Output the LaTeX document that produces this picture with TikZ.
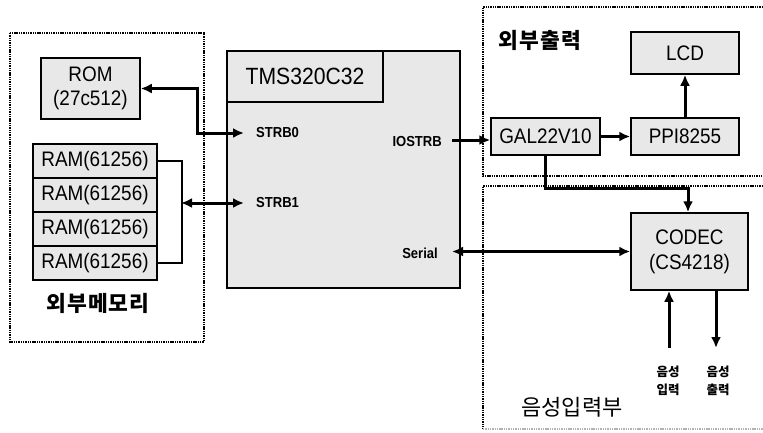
\documentclass[tikz,border=0pt]{standalone}
\usepackage{fontspec}
\setmainfont{Liberation Sans}[FakeStretch=0.9]
\newfontfamily\kr{Noto Sans CJK KR}
\usetikzlibrary{arrows.meta}
\definecolor{boxgray}{RGB}{232,232,232}
\tikzset{
  box/.style={draw, fill=boxgray, line width=1.5pt, inner sep=0pt, align=center, font=\fontsize{21}{24}\selectfont},
  grp/.style={line width=2.4pt, dash pattern=on 1.4pt off 0.9pt, line cap=butt},
  conn/.style={line width=3pt, -{Latex[length=11pt,width=10pt]}},
  bconn/.style={line width=3pt, {Latex[length=11pt,width=10pt]}-{Latex[length=11pt,width=10pt]}},
  pin/.style={font=\bfseries\fontsize{14.5}{16}\selectfont, inner sep=0pt},
  grplabel/.style={font=\kr\bfseries\fontsize{21.5}{24}\selectfont, inner sep=0pt},
}
\begin{document}
\begin{tikzpicture}[x=1pt,y=-1pt]
\useasboundingbox (0,0) rectangle (763,432);
% group frames
\draw[grp] (10,33) rectangle (204,342);
\draw[grp] (763,7) -- (483,7) -- (483,176) -- (763,176);
\draw[grp] (763,186) -- (483,186) -- (483,429);
\draw[grp, gray!60] (483,429) -- (763,429);
\node[grplabel] (memlbl) at (98,303) {외\kern1pt 부\kern1pt 메\kern1pt 모\kern1pt 리};
\node[grplabel] (outlbl) at (540,40) {외\kern1pt 부\kern1pt 출\kern1pt 력};
\node[grplabel, font=\kr\fontsize{22}{24}\selectfont] (voicelbl) at (572,407) {음성입력부};
% memory
\node[box, minimum width=99pt, minimum height=61pt] (rom) at (90.5,88.5) {ROM\\(27c512)};
\node[box, minimum width=124pt, minimum height=34pt] (ram1) at (95,161) {RAM(61256)};
\node[box, minimum width=124pt, minimum height=34pt] (ram2) at (95,195) {RAM(61256)};
\node[box, minimum width=124pt, minimum height=34pt] (ram3) at (95,229) {RAM(61256)};
\node[box, minimum width=124pt, minimum height=34pt] (ram4) at (95,263) {RAM(61256)};
% DSP
\node[box, minimum width=233pt, minimum height=237pt] (tms) at (343.5,169.5) {};
\node[box, minimum width=156pt, minimum height=51pt, font=\fontsize{23.5}{26}\selectfont] (tmstitle) at (305,76.5) {TMS320C32};
\node[pin, anchor=west] (strb0) at (256,133) {STRB0};
\node[pin, anchor=west] (strb1) at (256,203) {STRB1};
\node[pin, anchor=east] (iostrb) at (442,142) {IOSTRB};
\node[pin, anchor=east] (serial) at (438,253) {Serial};
% output
\node[box, minimum width=108pt, minimum height=42pt] (lcd) at (685,53) {LCD};
\node[box, minimum width=109pt, minimum height=37pt] (gal) at (545.5,136.5) {GAL22V10};
\node[box, minimum width=108pt, minimum height=37pt] (ppi) at (685,136.5) {PPI8255};
\node[box, minimum width=117pt, minimum height=77pt, font=\fontsize{21}{25}\selectfont] (codec) at (689.5,251.5) {CODEC\\(CS4218)};
\node[pin, font=\kr\bfseries\fontsize{12.5}{18}\selectfont, align=center] (vin) at (668,381) {음성\\입력};
\node[pin, font=\kr\bfseries\fontsize{12.5}{18}\selectfont, align=center] (vout) at (718,381) {음성\\출력};
% coordinates
\coordinate (s0) at (244,133);
\coordinate (s1) at (244,203);
\coordinate (br) at (181,203);
\coordinate (io) at (452,140);
\coordinate (se) at (452,251.5);
\coordinate (inb) at (669,348);
\coordinate (outb) at (716,348);
% connectors
\draw[bconn] (s0) -- (197,133) -- (197,88.5) -- (rom.east);
\draw[line width=1.5pt] (ram1.east) -- (182,161) -- (182,263) -- (ram4.east);
\draw[bconn] (br) -- (s1);
\draw[conn] (io) -- (io -| gal.west);
\draw[conn] (gal.east) -- (ppi.west);
\draw[conn] (ppi.north) -- (lcd.south);
\draw[conn] (gal.south) -- (545.5,188) -- (688,188) -- (688,0 |- codec.north);
\draw[bconn] (se) -- (codec.west);
\draw[conn] (inb) -- (inb |- codec.south);
\draw[conn] (outb |- codec.south) -- (outb);
\end{tikzpicture}
\end{document}
